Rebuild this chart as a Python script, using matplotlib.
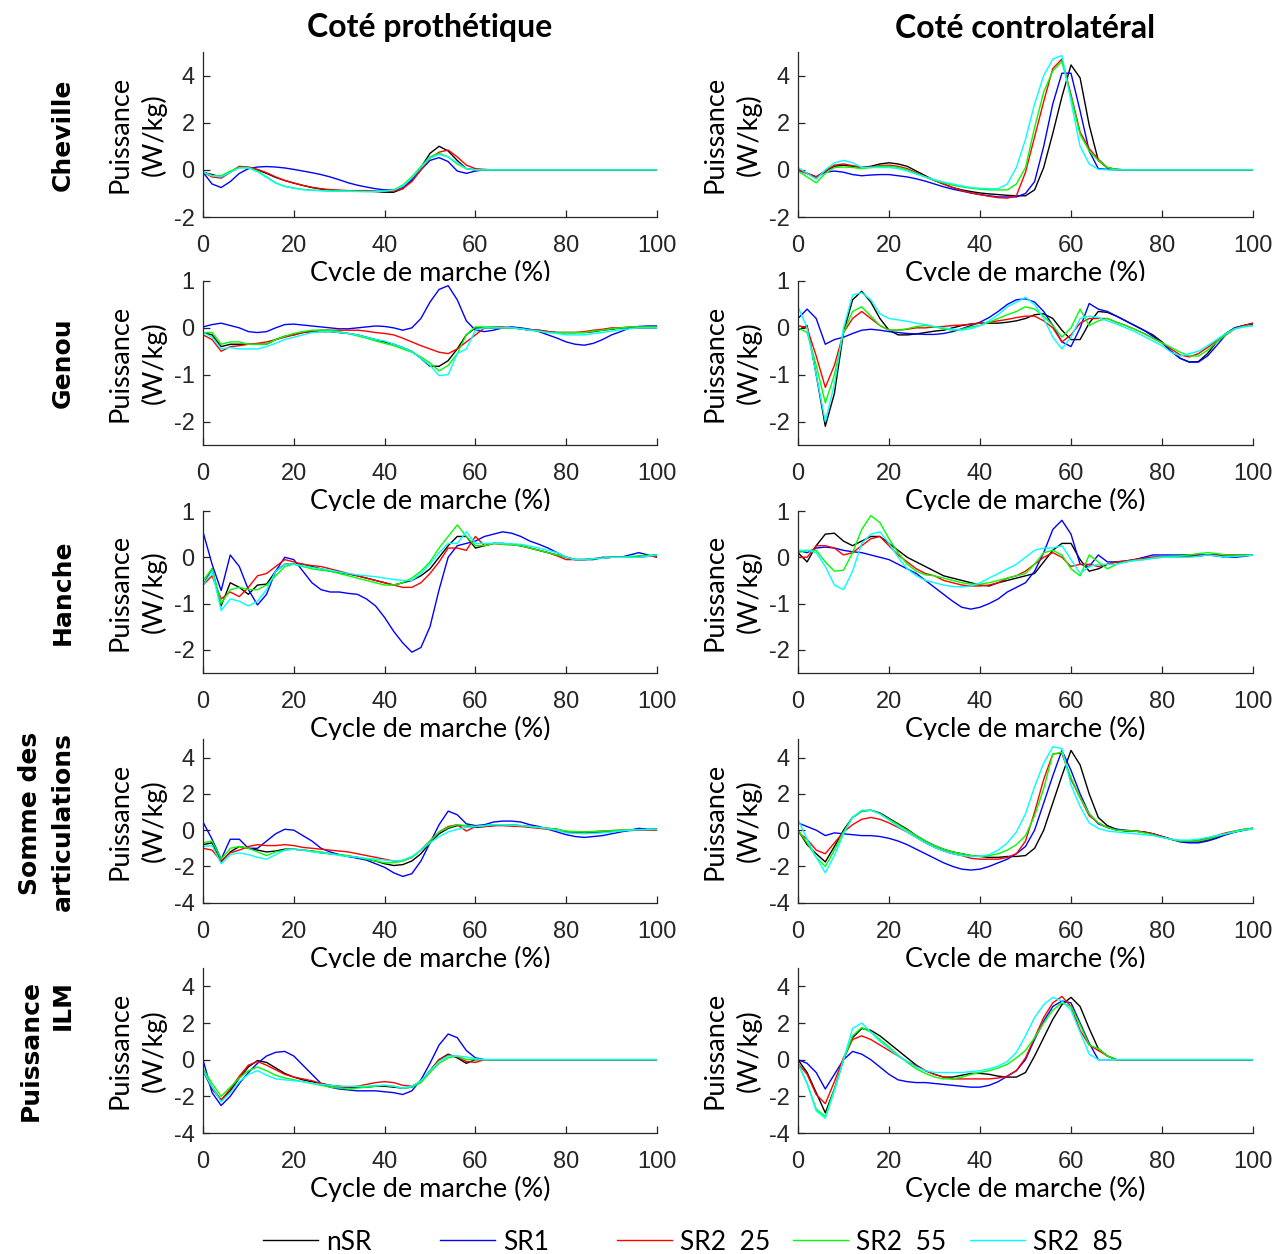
import numpy as np
import matplotlib
matplotlib.use("Agg")
import matplotlib.pyplot as plt
from matplotlib.lines import Line2D

# ---------------- data ----------------
cycle = np.arange(0, 101, 2)  # % of gait cycle (51 samples)

series_labels = ["nSR", "SR1", "SR2  25", "SR2  55", "SR2  85"]
row_labels = ["Cheville", "Genou", "Hanche", "Somme des\narticulations", "Puissance\nILM"]
col_titles = ["Coté prothétique", "Coté controlatéral"]

# ---- Cheville, côté prothétique
ank_p_nSR = [-0.10, -0.20, -0.30, -0.10, 0.12, 0.10, 0.00, -0.15, -0.32, -0.45,
             -0.56, -0.66, -0.75, -0.82, -0.86, -0.88, -0.89, -0.90, -0.90, -0.92,
             -0.95, -0.95, -0.80, -0.40, 0.10, 0.70, 1.00, 0.80, 0.40, 0.05,
             0.00, 0.00, 0.00, 0.00, 0.00, 0.00, 0.00, 0.00, 0.00, 0.00,
             0.00, 0.00, 0.00, 0.00, 0.00, 0.00, 0.00, 0.00, 0.00, 0.00, 0.00]
ank_p_SR1 = [-0.10, -0.60, -0.75, -0.50, -0.15, 0.05, 0.12, 0.14, 0.12, 0.08,
             0.02, -0.05, -0.12, -0.20, -0.30, -0.42, -0.55, -0.65, -0.73, -0.80,
             -0.85, -0.85, -0.75, -0.45, 0.00, 0.40, 0.52, 0.35, -0.05, -0.15,
             -0.05, 0.00, 0.00, 0.00, 0.00, 0.00, 0.00, 0.00, 0.00, 0.00,
             0.00, 0.00, 0.00, 0.00, 0.00, 0.00, 0.00, 0.00, 0.00, 0.00, 0.00]
ank_p_SR2_25 = [-0.10, -0.30, -0.35, -0.10, 0.15, 0.12, 0.02, -0.12, -0.30, -0.45,
                -0.56, -0.66, -0.74, -0.80, -0.84, -0.86, -0.88, -0.88, -0.88, -0.90,
                -0.92, -0.90, -0.80, -0.50, 0.00, 0.50, 0.75, 0.84, 0.55, 0.20,
                0.05, 0.02, 0.00, 0.00, 0.00, 0.00, 0.00, 0.00, 0.00, 0.00,
                0.00, 0.00, 0.00, 0.00, 0.00, 0.00, 0.00, 0.00, 0.00, 0.00, 0.00]
ank_p_SR2_55 = [-0.10, -0.25, -0.25, -0.05, 0.10, 0.10, -0.05, -0.30, -0.55, -0.70,
                -0.77, -0.83, -0.86, -0.88, -0.90, -0.90, -0.90, -0.91, -0.92, -0.92,
                -0.90, -0.85, -0.65, -0.30, 0.15, 0.55, 0.70, 0.55, 0.25, 0.05,
                0.00, 0.00, 0.00, 0.00, 0.00, 0.00, 0.00, 0.00, 0.00, 0.00,
                0.00, 0.00, 0.00, 0.00, 0.00, 0.00, 0.00, 0.00, 0.00, 0.00, 0.00]
ank_p_SR2_85 = [-0.10, -0.25, -0.30, -0.10, 0.08, 0.08, -0.08, -0.32, -0.56, -0.70,
                -0.78, -0.84, -0.87, -0.88, -0.90, -0.90, -0.91, -0.92, -0.92, -0.92,
                -0.90, -0.85, -0.70, -0.35, 0.10, 0.50, 0.65, 0.55, 0.30, 0.05,
                0.00, 0.00, 0.00, 0.00, 0.00, 0.00, 0.00, 0.00, 0.00, 0.00,
                0.00, 0.00, 0.00, 0.00, 0.00, 0.00, 0.00, 0.00, 0.00, 0.00, 0.00]

# ---- Cheville, côté controlatéral
ank_c_nSR = [0.00, -0.15, -0.30, -0.05, 0.15, 0.20, 0.15, 0.10, 0.15, 0.25,
             0.30, 0.25, 0.15, -0.05, -0.25, -0.45, -0.60, -0.75, -0.85, -0.92,
             -0.98, -1.02, -1.05, -1.08, -1.10, -1.10, -0.85, 0.10, 1.55, 3.10,
             4.45, 3.90, 1.90, 0.40, 0.08, 0.02, 0.00, 0.00, 0.00, 0.00,
             0.00, 0.00, 0.00, 0.00, 0.00, 0.00, 0.00, 0.00, 0.00, 0.00, 0.00]
ank_c_SR1 = [0.00, -0.15, -0.30, -0.10, -0.05, -0.10, -0.20, -0.25, -0.22, -0.20,
             -0.20, -0.25, -0.30, -0.38, -0.48, -0.60, -0.72, -0.82, -0.90, -0.98,
             -1.05, -1.10, -1.15, -1.15, -1.15, -1.00, -0.50, 1.00, 2.80, 4.10,
             4.10, 2.50, 0.80, 0.05, 0.02, 0.00, 0.00, 0.00, 0.00, 0.00,
             0.00, 0.00, 0.00, 0.00, 0.00, 0.00, 0.00, 0.00, 0.00, 0.00, 0.00]
ank_c_SR2_25 = [0.00, -0.15, -0.30, -0.05, 0.20, 0.25, 0.18, 0.10, 0.12, 0.18,
                0.20, 0.15, 0.05, -0.12, -0.30, -0.45, -0.60, -0.75, -0.88, -0.98,
                -1.05, -1.12, -1.18, -1.20, -1.10, -0.10, 1.40, 2.90, 4.30, 4.70,
                3.20, 1.60, 0.90, 0.45, 0.10, 0.02, 0.00, 0.00, 0.00, 0.00,
                0.00, 0.00, 0.00, 0.00, 0.00, 0.00, 0.00, 0.00, 0.00, 0.00, 0.00]
ank_c_SR2_55 = [-0.05, -0.30, -0.55, -0.15, 0.10, 0.12, 0.10, 0.05, 0.10, 0.15,
                0.15, 0.10, 0.00, -0.15, -0.30, -0.45, -0.55, -0.65, -0.72, -0.78,
                -0.82, -0.85, -0.85, -0.85, -0.60, 0.10, 1.80, 3.30, 4.20, 4.60,
                3.10, 1.50, 0.80, 0.40, 0.10, 0.02, 0.00, 0.00, 0.00, 0.00,
                0.00, 0.00, 0.00, 0.00, 0.00, 0.00, 0.00, 0.00, 0.00, 0.00, 0.00]
ank_c_SR2_85 = [0.10, -0.15, -0.40, 0.00, 0.30, 0.40, 0.30, 0.10, 0.10, 0.10,
                0.10, 0.05, -0.05, -0.18, -0.30, -0.42, -0.52, -0.60, -0.68, -0.75,
                -0.78, -0.80, -0.80, -0.60, 0.10, 1.30, 2.80, 4.00, 4.70, 4.85,
                2.90, 1.00, 0.25, 0.02, 0.00, 0.00, 0.00, 0.00, 0.00, 0.00,
                0.00, 0.00, 0.00, 0.00, 0.00, 0.00, 0.00, 0.00, 0.00, 0.00, 0.00]

# ---- Genou, côté prothétique
kne_p_nSR = [-0.10, -0.15, -0.40, -0.35, -0.35, -0.35, -0.35, -0.35, -0.25, -0.18,
             -0.15, -0.10, -0.08, -0.08, -0.08, -0.10, -0.12, -0.15, -0.20, -0.25,
             -0.30, -0.35, -0.42, -0.50, -0.65, -0.82, -0.82, -0.70, -0.45, -0.15,
             0.00, 0.00, 0.00, 0.00, 0.00, -0.02, -0.05, -0.05, -0.08, -0.10,
             -0.10, -0.10, -0.10, -0.08, -0.05, -0.03, 0.00, 0.00, 0.00, 0.00, 0.00]
kne_p_SR1 = [0.02, 0.07, 0.10, 0.05, 0.00, -0.08, -0.10, -0.08, 0.00, 0.07,
             0.08, 0.06, 0.04, 0.02, 0.00, -0.02, -0.02, 0.00, 0.02, 0.04,
             0.03, 0.00, -0.05, 0.00, 0.20, 0.55, 0.82, 0.90, 0.60, 0.15,
             -0.05, -0.08, -0.05, 0.00, 0.02, 0.00, -0.03, -0.08, -0.15, -0.22,
             -0.30, -0.35, -0.37, -0.33, -0.25, -0.15, -0.08, 0.00, 0.03, 0.04, 0.04]
kne_p_SR2_25 = [-0.15, -0.25, -0.50, -0.40, -0.38, -0.35, -0.33, -0.30, -0.25, -0.20,
                -0.15, -0.10, -0.07, -0.05, -0.05, -0.05, -0.05, -0.05, -0.07, -0.10,
                -0.12, -0.15, -0.22, -0.30, -0.38, -0.45, -0.52, -0.55, -0.45, -0.30,
                -0.15, 0.00, 0.02, 0.02, 0.00, -0.02, -0.05, -0.05, -0.08, -0.10,
                -0.10, -0.10, -0.08, -0.05, -0.03, 0.00, 0.00, 0.02, 0.02, 0.02, 0.02]
kne_p_SR2_55 = [-0.10, -0.10, -0.35, -0.30, -0.30, -0.35, -0.35, -0.35, -0.25, -0.18,
                -0.12, -0.08, -0.05, -0.05, -0.05, -0.08, -0.12, -0.17, -0.22, -0.28,
                -0.33, -0.38, -0.45, -0.52, -0.62, -0.75, -0.92, -0.80, -0.55, -0.15,
                0.02, 0.02, 0.02, 0.00, 0.00, -0.02, -0.05, -0.07, -0.10, -0.10,
                -0.10, -0.10, -0.10, -0.07, -0.05, -0.02, 0.00, 0.02, 0.02, 0.02, 0.02]
kne_p_SR2_85 = [-0.10, -0.20, -0.45, -0.42, -0.45, -0.45, -0.45, -0.40, -0.33, -0.25,
                -0.20, -0.15, -0.10, -0.08, -0.08, -0.10, -0.12, -0.15, -0.20, -0.25,
                -0.28, -0.35, -0.42, -0.50, -0.65, -0.80, -1.02, -1.00, -0.55, -0.45,
                -0.05, 0.00, 0.00, 0.00, 0.00, -0.02, -0.05, -0.07, -0.10, -0.12,
                -0.15, -0.15, -0.15, -0.12, -0.10, -0.07, -0.04, -0.02, 0.00, 0.00, 0.00]

# ---- Genou, côté controlatéral
kne_c_nSR = [-0.05, 0.05, -1.00, -2.10, -1.40, -0.10, 0.60, 0.78, 0.55, 0.20,
             -0.05, -0.15, -0.15, -0.13, -0.10, -0.07, -0.05, 0.00, 0.05, 0.08,
             0.10, 0.10, 0.10, 0.12, 0.15, 0.20, 0.28, 0.30, 0.20, -0.05,
             -0.25, -0.25, 0.10, 0.35, 0.33, 0.25, 0.15, 0.05, -0.05, -0.15,
             -0.30, -0.50, -0.65, -0.73, -0.72, -0.55, -0.30, -0.12, 0.00, 0.05, 0.08]
kne_c_SR1 = [0.20, 0.40, 0.20, -0.35, -0.25, -0.20, -0.12, -0.05, -0.03, -0.05,
             -0.08, -0.10, -0.12, -0.13, -0.14, -0.14, -0.12, -0.08, -0.02, 0.05,
             0.12, 0.22, 0.35, 0.50, 0.60, 0.62, 0.55, 0.35, 0.05, -0.30,
             -0.40, 0.00, 0.52, 0.40, 0.35, 0.25, 0.15, 0.05, -0.05, -0.18,
             -0.32, -0.50, -0.65, -0.73, -0.73, -0.60, -0.38, -0.15, 0.00, 0.05, 0.10]
kne_c_SR2_25 = [0.05, 0.00, -0.60, -1.27, -0.80, -0.10, 0.20, 0.35, 0.20, 0.05,
                -0.05, -0.05, -0.03, 0.00, 0.00, 0.02, 0.03, 0.05, 0.06, 0.08,
                0.10, 0.12, 0.15, 0.18, 0.22, 0.25, 0.25, 0.15, 0.00, -0.30,
                -0.15, 0.10, 0.20, 0.20, 0.20, 0.12, 0.05, -0.03, -0.12, -0.22,
                -0.32, -0.45, -0.58, -0.62, -0.55, -0.42, -0.28, -0.15, -0.02, 0.05, 0.10]
kne_c_SR2_55 = [0.00, -0.10, -0.80, -1.60, -1.00, -0.10, 0.35, 0.45, 0.25, 0.05,
                -0.05, -0.05, -0.02, 0.03, 0.05, 0.02, -0.02, -0.05, -0.03, 0.02,
                0.05, 0.12, 0.20, 0.28, 0.35, 0.45, 0.40, 0.25, 0.05, -0.20,
                0.00, 0.40, 0.05, 0.15, 0.20, 0.12, 0.05, -0.03, -0.12, -0.22,
                -0.32, -0.42, -0.52, -0.60, -0.60, -0.48, -0.30, -0.15, -0.02, 0.03, 0.05]
kne_c_SR2_85 = [0.45, 0.00, -1.00, -2.00, -1.20, 0.00, 0.70, 0.75, 0.60, 0.30,
                0.20, 0.17, 0.14, 0.10, 0.07, 0.03, 0.00, -0.03, -0.05, -0.02,
                0.05, 0.15, 0.28, 0.45, 0.55, 0.65, 0.50, 0.20, -0.20, -0.45,
                -0.20, 0.20, 0.25, 0.22, 0.15, 0.08, 0.00, -0.08, -0.18, -0.28,
                -0.38, -0.52, -0.60, -0.55, -0.50, -0.38, -0.25, -0.12, -0.02, 0.02, 0.05]

# ---- Hanche, côté prothétique
hip_p_nSR = [-0.60, -0.25, -1.05, -0.55, -0.65, -0.80, -0.60, -0.58, -0.30, -0.15,
             -0.15, -0.15, -0.20, -0.25, -0.30, -0.33, -0.36, -0.40, -0.45, -0.50,
             -0.55, -0.60, -0.55, -0.50, -0.40, -0.25, 0.00, 0.25, 0.45, 0.45,
             0.20, 0.25, 0.30, 0.30, 0.28, 0.25, 0.20, 0.15, 0.10, 0.05,
             0.00, -0.05, -0.05, -0.03, -0.02, 0.00, 0.00, 0.00, 0.02, 0.03, 0.05]
hip_p_SR1 = [0.55, -0.15, -0.72, 0.05, -0.20, -0.70, -1.03, -0.80, -0.30, 0.00,
             -0.05, -0.30, -0.55, -0.70, -0.75, -0.75, -0.78, -0.80, -0.90, -1.05,
             -1.30, -1.60, -1.85, -2.05, -1.95, -1.50, -0.70, 0.00, 0.25, 0.30,
             0.35, 0.45, 0.50, 0.55, 0.52, 0.45, 0.35, 0.28, 0.20, 0.10,
             0.00, -0.05, -0.05, -0.05, 0.00, 0.00, 0.00, 0.05, 0.10, 0.05, 0.00]
hip_p_SR2_25 = [-0.60, -0.40, -0.90, -0.75, -0.85, -0.65, -0.40, -0.35, -0.20, -0.05,
                -0.10, -0.15, -0.18, -0.20, -0.25, -0.30, -0.35, -0.40, -0.45, -0.50,
                -0.55, -0.60, -0.65, -0.65, -0.55, -0.35, -0.10, 0.20, 0.20, 0.15,
                0.45, 0.25, 0.30, 0.28, 0.27, 0.25, 0.20, 0.15, 0.10, 0.03,
                -0.05, -0.05, -0.05, -0.03, -0.02, 0.00, 0.00, 0.00, 0.00, 0.02, 0.02]
hip_p_SR2_55 = [-0.50, -0.25, -1.00, -0.70, -0.65, -0.70, -0.70, -0.60, -0.40, -0.20,
                -0.15, -0.20, -0.25, -0.28, -0.30, -0.35, -0.40, -0.45, -0.50, -0.55,
                -0.60, -0.60, -0.55, -0.45, -0.30, -0.10, 0.20, 0.45, 0.70, 0.45,
                0.25, 0.25, 0.30, 0.28, 0.27, 0.25, 0.20, 0.15, 0.10, 0.05,
                0.00, -0.05, -0.05, -0.03, -0.02, 0.00, 0.00, 0.02, 0.03, 0.04, 0.05]
hip_p_SR2_85 = [-0.60, -0.30, -1.15, -0.90, -0.95, -1.05, -0.95, -0.70, -0.30, -0.15,
                -0.15, -0.18, -0.22, -0.25, -0.28, -0.32, -0.35, -0.38, -0.40, -0.42,
                -0.45, -0.48, -0.50, -0.50, -0.35, -0.15, 0.10, 0.30, 0.30, 0.55,
                0.30, 0.30, 0.30, 0.30, 0.29, 0.28, 0.24, 0.20, 0.15, 0.10,
                0.00, -0.05, -0.05, -0.03, -0.02, 0.00, 0.00, 0.00, 0.00, 0.02, 0.05]

# ---- Hanche, côté controlatéral
hip_c_nSR = [0.10, -0.10, 0.25, 0.50, 0.52, 0.35, 0.25, 0.35, 0.45, 0.45,
             0.30, 0.15, 0.00, -0.10, -0.20, -0.30, -0.40, -0.45, -0.50, -0.55,
             -0.60, -0.62, -0.55, -0.50, -0.45, -0.40, -0.35, -0.10, 0.15, 0.30,
             0.30, -0.05, -0.30, -0.25, -0.15, -0.10, -0.08, -0.05, -0.02, 0.00,
             0.00, 0.00, 0.00, 0.02, 0.03, 0.05, 0.05, 0.05, 0.05, 0.05, 0.05]
hip_c_SR1 = [0.15, 0.10, 0.20, 0.22, 0.20, 0.15, 0.12, 0.10, 0.05, 0.00,
             -0.05, -0.15, -0.25, -0.35, -0.50, -0.65, -0.80, -0.95, -1.08, -1.12,
             -1.08, -1.00, -0.90, -0.75, -0.65, -0.55, -0.30, 0.10, 0.60, 0.80,
             0.50, -0.15, -0.20, 0.05, -0.10, -0.10, -0.10, -0.05, 0.00, 0.05,
             0.05, 0.05, 0.05, 0.05, 0.05, 0.05, 0.03, 0.00, 0.00, 0.02, 0.05]
hip_c_SR2_25 = [0.00, 0.00, 0.25, 0.25, 0.20, 0.05, 0.10, 0.25, 0.40, 0.45,
                0.25, 0.05, -0.10, -0.25, -0.35, -0.40, -0.50, -0.55, -0.60, -0.62,
                -0.62, -0.60, -0.55, -0.45, -0.40, -0.30, -0.15, 0.00, 0.10, 0.00,
                -0.20, -0.15, -0.15, -0.20, -0.15, -0.10, -0.08, -0.05, -0.02, 0.00,
                0.00, 0.00, 0.00, 0.02, 0.03, 0.05, 0.05, 0.05, 0.05, 0.05, 0.05]
hip_c_SR2_55 = [0.10, 0.15, 0.15, -0.10, -0.30, -0.28, 0.10, 0.60, 0.90, 0.75,
                0.40, 0.10, -0.15, -0.30, -0.38, -0.40, -0.45, -0.50, -0.55, -0.58,
                -0.58, -0.55, -0.50, -0.45, -0.40, -0.35, -0.15, 0.10, 0.15, 0.05,
                -0.25, -0.40, 0.05, -0.10, -0.25, -0.15, -0.10, -0.07, -0.05, -0.02,
                0.00, 0.02, 0.03, 0.05, 0.08, 0.10, 0.08, 0.05, 0.05, 0.05, 0.05]
hip_c_SR2_85 = [0.15, 0.15, 0.10, -0.20, -0.60, -0.70, -0.30, 0.30, 0.50, 0.55,
                0.30, 0.00, -0.25, -0.40, -0.50, -0.55, -0.60, -0.63, -0.64, -0.62,
                -0.55, -0.45, -0.35, -0.25, -0.15, 0.00, 0.15, 0.20, 0.20, 0.25,
                -0.05, -0.35, -0.20, -0.15, -0.15, -0.15, -0.10, -0.07, -0.05, -0.02,
                0.00, 0.00, 0.00, 0.00, 0.02, 0.05, 0.03, 0.00, 0.02, 0.03, 0.05]

# ---- Somme des articulations, côté prothétique
som_p_nSR = [-0.80, -0.70, -1.75, -1.20, -0.90, -1.00, -1.10, -1.20, -1.15, -1.05,
             -1.05, -1.10, -1.15, -1.25, -1.30, -1.35, -1.45, -1.50, -1.60, -1.70,
             -1.85, -1.95, -1.90, -1.70, -1.30, -0.70, -0.20, 0.10, 0.25, 0.25,
             0.15, 0.20, 0.25, 0.30, 0.28, 0.25, 0.20, 0.15, 0.10, 0.05,
             -0.10, -0.12, -0.15, -0.12, -0.10, -0.07, -0.05, -0.02, 0.00, 0.02, 0.05]
som_p_SR1 = [0.45, -0.50, -1.60, -0.50, -0.50, -1.00, -1.00, -0.60, -0.20, 0.05,
             0.00, -0.30, -0.60, -1.00, -1.20, -1.35, -1.45, -1.55, -1.65, -1.85,
             -2.05, -2.35, -2.55, -2.40, -1.70, -0.70, 0.30, 1.05, 0.85, 0.35,
             0.25, 0.30, 0.45, 0.50, 0.50, 0.45, 0.30, 0.20, 0.05, -0.10,
             -0.25, -0.35, -0.40, -0.35, -0.30, -0.20, -0.10, 0.00, 0.10, 0.05, 0.05]
som_p_SR2_25 = [-1.00, -1.10, -1.70, -1.25, -1.10, -0.90, -0.80, -0.85, -0.85, -0.80,
                -0.85, -0.95, -1.00, -1.05, -1.10, -1.15, -1.20, -1.30, -1.40, -1.50,
                -1.60, -1.70, -1.70, -1.50, -1.10, -0.60, -0.10, 0.20, 0.30, -0.05,
                0.20, 0.20, 0.25, 0.25, 0.22, 0.20, 0.15, 0.10, 0.05, 0.00,
                -0.10, -0.10, -0.10, -0.08, -0.05, -0.02, 0.00, 0.00, 0.00, 0.00, 0.00]
som_p_SR2_55 = [-0.70, -0.60, -1.60, -1.00, -0.90, -1.00, -1.20, -1.40, -1.20, -1.10,
                -1.05, -1.10, -1.15, -1.20, -1.30, -1.35, -1.40, -1.50, -1.60, -1.70,
                -1.80, -1.80, -1.70, -1.50, -1.10, -0.60, -0.10, 0.15, 0.30, 0.25,
                0.20, 0.25, 0.30, 0.30, 0.28, 0.25, 0.20, 0.15, 0.10, 0.05,
                -0.05, -0.08, -0.10, -0.08, -0.05, -0.03, 0.00, 0.02, 0.03, 0.04, 0.05]
som_p_SR2_85 = [-0.90, -0.85, -1.85, -1.35, -1.25, -1.35, -1.50, -1.60, -1.35, -1.10,
                -1.05, -1.10, -1.20, -1.25, -1.30, -1.40, -1.45, -1.50, -1.55, -1.60,
                -1.65, -1.70, -1.65, -1.45, -1.10, -0.70, -0.35, -0.10, 0.05, 0.15,
                0.20, 0.25, 0.30, 0.30, 0.28, 0.25, 0.20, 0.15, 0.08, 0.00,
                -0.15, -0.18, -0.20, -0.18, -0.15, -0.10, -0.05, 0.00, 0.02, 0.03, 0.05]

# ---- Somme des articulations, côté controlatéral
som_c_nSR = [0.00, -0.80, -1.30, -1.75, -0.90, 0.00, 0.70, 1.05, 1.10, 0.95,
             0.65, 0.35, 0.05, -0.30, -0.60, -0.85, -1.05, -1.20, -1.30, -1.40,
             -1.45, -1.50, -1.50, -1.45, -1.45, -1.40, -1.00, 0.00, 1.50, 3.00,
             4.40, 3.60, 2.00, 0.70, 0.25, 0.05, -0.05, -0.05, -0.10, -0.20,
             -0.35, -0.50, -0.60, -0.65, -0.65, -0.55, -0.40, -0.25, -0.10, 0.00, 0.10]
som_c_SR1 = [0.40, 0.20, 0.00, -0.30, -0.15, -0.20, -0.25, -0.30, -0.30, -0.35,
             -0.45, -0.60, -0.80, -1.05, -1.30, -1.55, -1.80, -2.00, -2.15, -2.20,
             -2.15, -2.00, -1.80, -1.60, -1.30, -0.90, 0.00, 1.50, 3.00, 4.40,
             3.30, 2.00, 0.90, 0.35, 0.15, 0.05, 0.00, -0.05, -0.10, -0.20,
             -0.35, -0.50, -0.65, -0.70, -0.70, -0.60, -0.45, -0.25, -0.10, 0.00, 0.10]
som_c_SR2_25 = [-0.10, -0.50, -1.10, -1.30, -0.70, -0.10, 0.30, 0.60, 0.70, 0.60,
                0.40, 0.15, -0.10, -0.40, -0.70, -0.95, -1.15, -1.30, -1.40, -1.55,
                -1.60, -1.60, -1.60, -1.50, -1.30, -0.60, 1.00, 2.80, 4.20, 4.25,
                2.80, 1.80, 0.80, 0.40, 0.15, 0.00, -0.03, -0.05, -0.10, -0.20,
                -0.35, -0.50, -0.60, -0.60, -0.55, -0.45, -0.30, -0.15, -0.05, 0.05, 0.10]
som_c_SR2_55 = [0.00, -0.70, -1.50, -2.00, -1.10, -0.10, 0.70, 1.05, 1.10, 0.90,
                0.60, 0.30, 0.00, -0.30, -0.60, -0.85, -1.05, -1.20, -1.30, -1.40,
                -1.45, -1.40, -1.30, -1.10, -0.80, -0.30, 0.80, 2.30, 4.20, 4.30,
                2.90, 1.80, 0.90, 0.40, 0.15, 0.00, -0.03, -0.05, -0.15, -0.25,
                -0.40, -0.50, -0.60, -0.60, -0.60, -0.50, -0.35, -0.20, -0.05, 0.05, 0.10]
som_c_SR2_85 = [0.60, -0.50, -1.50, -2.35, -1.40, -0.20, 0.70, 1.10, 1.10, 0.90,
                0.55, 0.20, -0.10, -0.40, -0.70, -0.95, -1.15, -1.30, -1.40, -1.45,
                -1.45, -1.35, -1.10, -0.70, -0.10, 0.90, 2.40, 3.70, 4.60, 4.50,
                2.50, 1.30, 0.40, 0.10, -0.05, -0.10, -0.15, -0.20, -0.25, -0.30,
                -0.40, -0.50, -0.55, -0.55, -0.50, -0.40, -0.30, -0.20, -0.10, 0.00, 0.05]

# ---- Puissance ILM, côté prothétique
ilm_p_nSR = [-0.60, -1.60, -2.20, -1.70, -1.00, -0.40, -0.05, -0.15, -0.45, -0.75,
             -0.95, -1.10, -1.20, -1.30, -1.40, -1.45, -1.50, -1.50, -1.50, -1.45,
             -1.45, -1.50, -1.55, -1.50, -1.20, -0.60, 0.00, 0.30, 0.10, -0.20,
             0.00, 0.00, 0.00, 0.00, 0.00, 0.00, 0.00, 0.00, 0.00, 0.00,
             0.00, 0.00, 0.00, 0.00, 0.00, 0.00, 0.00, 0.00, 0.00, 0.00, 0.00]
ilm_p_SR1 = [0.00, -1.80, -2.50, -2.00, -1.30, -0.70, -0.20, 0.20, 0.40, 0.45,
             0.20, -0.30, -0.80, -1.30, -1.50, -1.60, -1.65, -1.70, -1.70, -1.70,
             -1.75, -1.80, -1.90, -1.70, -1.10, -0.20, 0.80, 1.40, 1.20, 0.50,
             0.10, 0.00, 0.00, 0.00, 0.00, 0.00, 0.00, 0.00, 0.00, 0.00,
             0.00, 0.00, 0.00, 0.00, 0.00, 0.00, 0.00, 0.00, 0.00, 0.00, 0.00]
ilm_p_SR2_25 = [-0.60, -1.50, -2.20, -1.60, -0.90, -0.30, -0.10, -0.30, -0.55, -0.80,
                -0.95, -1.05, -1.15, -1.30, -1.40, -1.50, -1.50, -1.45, -1.35, -1.25,
                -1.20, -1.25, -1.40, -1.45, -1.20, -0.60, 0.00, 0.25, 0.15, -0.10,
                -0.15, 0.00, 0.00, 0.00, 0.00, 0.00, 0.00, 0.00, 0.00, 0.00,
                0.00, 0.00, 0.00, 0.00, 0.00, 0.00, 0.00, 0.00, 0.00, 0.00, 0.00]
ilm_p_SR2_55 = [-0.50, -1.30, -2.00, -1.50, -1.00, -0.60, -0.40, -0.60, -0.85, -1.00,
                -1.10, -1.20, -1.30, -1.40, -1.50, -1.55, -1.60, -1.55, -1.50, -1.45,
                -1.40, -1.45, -1.55, -1.50, -1.25, -0.70, -0.20, 0.10, 0.20, 0.00,
                0.00, 0.00, 0.00, 0.00, 0.00, 0.00, 0.00, 0.00, 0.00, 0.00,
                0.00, 0.00, 0.00, 0.00, 0.00, 0.00, 0.00, 0.00, 0.00, 0.00, 0.00]
ilm_p_SR2_85 = [-0.60, -1.50, -2.30, -1.80, -1.20, -0.80, -0.60, -0.85, -1.05, -1.10,
                -1.15, -1.20, -1.30, -1.35, -1.40, -1.45, -1.45, -1.45, -1.45, -1.40,
                -1.40, -1.45, -1.55, -1.45, -1.15, -0.60, -0.10, 0.20, 0.20, 0.15,
                0.05, 0.00, 0.00, 0.00, 0.00, 0.00, 0.00, 0.00, 0.00, 0.00,
                0.00, 0.00, 0.00, 0.00, 0.00, 0.00, 0.00, 0.00, 0.00, 0.00, 0.00]

# ---- Puissance ILM, côté controlatéral
ilm_c_nSR = [0.00, -0.70, -1.80, -2.90, -1.60, 0.00, 1.20, 1.70, 1.60, 1.30,
             0.90, 0.50, 0.10, -0.30, -0.60, -0.80, -0.95, -0.95, -0.85, -0.75,
             -0.75, -0.80, -0.90, -0.95, -0.95, -0.70, 0.20, 1.20, 2.20, 3.00,
             3.40, 2.90, 1.70, 0.60, 0.20, 0.00, 0.00, 0.00, 0.00, 0.00,
             0.00, 0.00, 0.00, 0.00, 0.00, 0.00, 0.00, 0.00, 0.00, 0.00, 0.00]
ilm_c_SR1 = [0.00, -0.20, -0.70, -1.60, -0.80, 0.00, 0.45, 0.30, 0.00, -0.40,
             -0.80, -1.10, -1.20, -1.25, -1.25, -1.30, -1.35, -1.40, -1.45, -1.50,
             -1.50, -1.40, -1.20, -0.90, -0.60, 0.00, 1.10, 2.10, 2.90, 3.20,
             3.10, 2.00, 0.90, 0.00, 0.00, 0.00, 0.00, 0.00, 0.00, 0.00,
             0.00, 0.00, 0.00, 0.00, 0.00, 0.00, 0.00, 0.00, 0.00, 0.00, 0.00]
ilm_c_SR2_25 = [-0.20, -0.80, -1.90, -2.40, -1.20, 0.10, 1.10, 1.30, 1.10, 0.80,
                0.50, 0.20, -0.10, -0.35, -0.60, -0.80, -0.95, -1.05, -1.05, -1.05,
                -1.05, -1.05, -1.00, -0.90, -0.60, 0.10, 1.20, 2.30, 3.10, 3.45,
                2.90, 1.60, 0.80, 0.50, 0.20, 0.00, 0.00, 0.00, 0.00, 0.00,
                0.00, 0.00, 0.00, 0.00, 0.00, 0.00, 0.00, 0.00, 0.00, 0.00, 0.00]
ilm_c_SR2_55 = [-0.20, -1.30, -2.70, -3.10, -1.60, 0.00, 1.30, 1.75, 1.50, 1.10,
                0.70, 0.25, -0.15, -0.50, -0.75, -0.95, -1.05, -1.05, -0.95, -0.80,
                -0.70, -0.60, -0.45, -0.25, 0.10, 0.50, 1.20, 2.00, 2.70, 3.10,
                2.90, 1.90, 0.80, 0.60, 0.20, 0.00, 0.00, 0.00, 0.00, 0.00,
                0.00, 0.00, 0.00, 0.00, 0.00, 0.00, 0.00, 0.00, 0.00, 0.00, 0.00]
ilm_c_SR2_85 = [-0.20, -1.30, -2.80, -3.20, -1.70, 0.00, 1.70, 2.00, 1.50, 1.00,
                0.60, 0.20, -0.10, -0.40, -0.60, -0.70, -0.70, -0.70, -0.70, -0.65,
                -0.60, -0.50, -0.35, -0.10, 0.40, 1.30, 2.30, 3.00, 3.40, 3.20,
                2.70, 1.50, 0.30, 0.00, 0.00, 0.00, 0.00, 0.00, 0.00, 0.00,
                0.00, 0.00, 0.00, 0.00, 0.00, 0.00, 0.00, 0.00, 0.00, 0.00, 0.00]

panels = [
    [[ank_p_nSR, ank_p_SR1, ank_p_SR2_25, ank_p_SR2_55, ank_p_SR2_85],
     [ank_c_nSR, ank_c_SR1, ank_c_SR2_25, ank_c_SR2_55, ank_c_SR2_85]],
    [[kne_p_nSR, kne_p_SR1, kne_p_SR2_25, kne_p_SR2_55, kne_p_SR2_85],
     [kne_c_nSR, kne_c_SR1, kne_c_SR2_25, kne_c_SR2_55, kne_c_SR2_85]],
    [[hip_p_nSR, hip_p_SR1, hip_p_SR2_25, hip_p_SR2_55, hip_p_SR2_85],
     [hip_c_nSR, hip_c_SR1, hip_c_SR2_25, hip_c_SR2_55, hip_c_SR2_85]],
    [[som_p_nSR, som_p_SR1, som_p_SR2_25, som_p_SR2_55, som_p_SR2_85],
     [som_c_nSR, som_c_SR1, som_c_SR2_25, som_c_SR2_55, som_c_SR2_85]],
    [[ilm_p_nSR, ilm_p_SR1, ilm_p_SR2_25, ilm_p_SR2_55, ilm_p_SR2_85],
     [ilm_c_nSR, ilm_c_SR1, ilm_c_SR2_25, ilm_c_SR2_55, ilm_c_SR2_85]],
]

x_ticks = [0, 20, 40, 60, 80, 100]
row_ylims = [(-2, 5), (-2.5, 1), (-2.5, 1), (-4, 5), (-4, 5)]
row_yticks = [[-2, 0, 2, 4], [-2, -1, 0, 1], [-2, -1, 0, 1],
              [-4, -2, 0, 2, 4], [-4, -2, 0, 2, 4]]

# ---------------- style / layout ----------------
plt.rcParams["font.family"] = ["Liberation Sans", "DejaVu Sans"]
plt.rcParams["axes.unicode_minus"] = False

colors = ["#000000", "#0000ff", "#ff0000", "#00ff00", "#00ffff"]
W, H = 1277, 1254
col_x_px = [(203, 657), (798, 1253)]
row_y_px = [(52, 217), (281, 445), (511, 673), (739.5, 902.7), (968, 1133)]

label_font = ["Lato", "DejaVu Sans"]
axis_gray = "#262626"

fig = plt.figure(figsize=(W / 100, H / 100), dpi=100)

for r in range(5):
    for c in range(2):
        x0, x1 = col_x_px[c]
        y0, y1 = row_y_px[r]
        ax = fig.add_axes([x0 / W, 1 - y1 / H, (x1 - x0) / W, (y1 - y0) / H])
        for k, ser in enumerate(panels[r][c]):
            ax.plot(cycle, ser, color=colors[k], lw=1.0)
        ax.set_xlim(0, 100)
        ax.set_ylim(*row_ylims[r])
        ax.set_xticks(x_ticks)
        ax.set_yticks(row_yticks[r])
        for s in ["top", "right"]:
            ax.spines[s].set_visible(False)
        for s in ["left", "bottom"]:
            ax.spines[s].set_color(axis_gray)
            ax.spines[s].set_linewidth(0.9)
        ax.tick_params(axis="both", direction="in", length=5, width=0.9,
                       color=axis_gray, labelcolor=axis_gray, labelsize=17)
        ax.tick_params(axis="x", pad=13)
        ax.tick_params(axis="y", pad=6)
        ax.set_xlabel("Cycle de marche (%)", fontsize=19.5, family=label_font,
                      labelpad=2)
        ax.set_ylabel("Puissance\n(W/kg)", fontsize=19.5, family=label_font,
                      labelpad=5, linespacing=1.4)

    yc = 1 - (row_y_px[r][0] + row_y_px[r][1]) / 2 / H
    fig.text(75 / W, yc, row_labels[r], rotation=90, ha="right", va="center",
             fontsize=18, fontweight="bold", family="DejaVu Sans",
             linespacing=1.45)

for c in range(2):
    xc = (col_x_px[c][0] + col_x_px[c][1]) / 2 / W
    fig.text(xc, 1 - 28 / H, col_titles[c], ha="center", va="center",
             fontsize=23, fontweight="bold", family=label_font)

# legend (equal-width columns, one entry per column)
leg_x_px = [263, 440, 617, 793, 970]
for k, lab in enumerate(series_labels):
    h = Line2D([], [], color=colors[k], lw=1.0)
    fig.legend(handles=[h], labels=[lab], loc="center left",
               bbox_to_anchor=(leg_x_px[k] / W, 1 - 1242 / H),
               frameon=False, handlelength=2.1,
               handletextpad=0.3, borderpad=0, borderaxespad=0,
               prop={"family": label_font, "size": 19})

fig.savefig("out.png", dpi=100)
